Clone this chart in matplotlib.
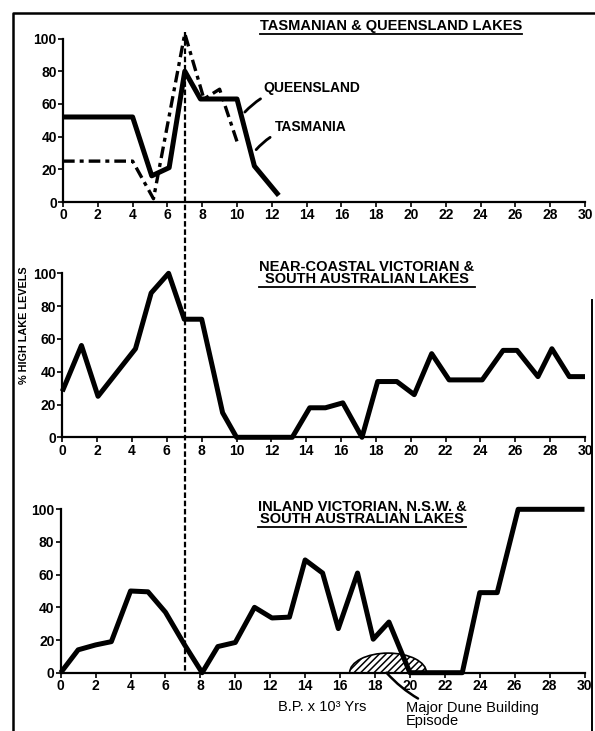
import matplotlib
matplotlib.use("Agg")
import matplotlib.pyplot as plt
from matplotlib.lines import Line2D
from matplotlib.patches import Ellipse

plt.rcParams['font.family'] = ['Liberation Sans', 'DejaVu Sans']
plt.rcParams['hatch.linewidth'] = 1.1

# ---------------- data ----------------
years_qld = [0, 4, 5.1, 6.1, 7.0, 7.9, 10.0, 11.0, 12.4]
qld = [52, 52, 16, 21, 80, 63, 63, 22, 4]

years_tas = [0, 4, 5.2, 7.0, 8.1, 9.0, 10.0]
tas = [25, 25, 2, 103, 63, 69, 37]

years_mid = [0, 1.1, 2.05, 4.2, 5.1, 6.1, 7.0, 8.0, 8.7, 9.2, 10.0, 13.2, 14.2,
             15.1, 16.1, 17.2, 18.1, 19.2, 20.2, 21.2, 22.2, 24.1, 25.3, 26.1,
             27.3, 28.1, 29.1, 30]
mid = [28, 56, 25, 54, 88, 100, 72, 72, 39, 15, 0, 0, 18, 18, 21, 0, 34, 34,
       26, 51, 35, 35, 53, 53, 37, 54, 37, 37]

years_low = [0, 1, 2, 2.9, 4, 5, 6, 7.1, 8.1, 9, 10, 11.1, 12.1, 13.1, 14, 15,
             15.9, 17, 17.9, 18.8, 20, 23, 24, 25, 26.2, 30]
low = [0, 14, 17, 19, 50, 49.5, 37, 17, 0, 16, 18.5, 40, 33.5, 34, 69, 61, 27,
       61, 20.5, 31, 0, 0, 49, 49, 100, 100]

dune_center = 18.75
dune_width = 4.4
dune_height = 12

marker_year = 7
xticks = list(range(0, 31, 2))
yticks = [0, 20, 40, 60, 80, 100]

titles = ["TASMANIAN & QUEENSLAND LAKES",
          "NEAR-COASTAL VICTORIAN &\nSOUTH AUSTRALIAN LAKES",
          "INLAND VICTORIAN, N.S.W. &\nSOUTH AUSTRALIAN LAKES"]

# ---------------- figure ----------------
W, H = 595, 731
fig = plt.figure(figsize=(W / 100, H / 100), dpi=100)

def rect(x0, x1, y100, y0):
    return [x0 / W, 1 - y0 / H, (x1 - x0) / W, (y0 - y100) / H]

ax1 = fig.add_axes(rect(63, 585, 38.5, 202))
ax2 = fig.add_axes(rect(62.3, 585, 273.3, 437.3))
ax3 = fig.add_axes(rect(60.7, 584.5, 509.3, 672.7))

tick_font = dict(fontsize=10, fontweight='bold')
for ax in (ax1, ax2, ax3):
    ax.set_facecolor('none')
    ax.set_xlim(0, 30)
    ax.set_ylim(0, 100)
    ax.set_xticks(xticks)
    ax.set_yticks(yticks)
    ax.set_xticklabels([str(t) for t in xticks], **tick_font)
    ax.set_yticklabels([str(t) for t in yticks], **tick_font)
    ax.tick_params(length=3.5, width=1.2, pad=1.0, colors='black')
    for s in ('top', 'right'):
        ax.spines[s].set_visible(False)
    for s in ('left', 'bottom'):
        ax.spines[s].set_linewidth(1.6)

thick = dict(color='black', lw=3.6, solid_joinstyle='round',
             solid_capstyle='butt', clip_on=False, zorder=4)

ax1.plot(years_qld, qld, **thick)
ax1.plot(years_tas, tas, color='black', lw=2.4, dashes=(3.5, 1.5, 1.2, 1.5),
         clip_on=False, zorder=3)
ax2.plot(years_mid, mid, **thick)
ax3.plot(years_low, low, **thick)

# vertical dashed marker through all three panels (drawn in top-axes data units)
ax1.plot([marker_year, marker_year], [104, -287], color='black', lw=1.6,
         dashes=(2.5, 1.2), clip_on=False, zorder=2)

# series labels
ax1.annotate("QUEENSLAND", xy=(10.45, 55), xytext=(11.5, 70),
             fontsize=10, fontweight='bold', va='center', ha='left',
             arrowprops=dict(arrowstyle='-', color='black', lw=2.0,
                             shrinkA=2, shrinkB=0,
                             connectionstyle='arc3,rad=0.25'))
ax1.annotate("TASMANIA", xy=(11.1, 32), xytext=(12.2, 45.6),
             fontsize=10, fontweight='bold', va='center', ha='left',
             arrowprops=dict(arrowstyle='-', color='black', lw=2.0,
                             shrinkA=2, shrinkB=0,
                             connectionstyle='arc3,rad=0.25'))

# dune building episode
ell = Ellipse((dune_center, 0), dune_width, 2 * dune_height, facecolor='none',
              edgecolor='black', hatch='/////', lw=1.2, zorder=3)
ax3.add_patch(ell)
ax3.annotate("Major Dune Building\nEpisode", xy=(18.66, 0), xytext=(19.75, -17.5),
             fontsize=10.5, va='top', ha='left', linespacing=0.9,
             annotation_clip=False,
             arrowprops=dict(arrowstyle='-', color='black', lw=1.8,
                             shrinkA=0, shrinkB=0,
                             connectionstyle='arc3,rad=-0.2'))

fig.text(322 / W, 1 - 707 / H, "B.P. x 10³ Yrs", fontsize=10.5,
         ha='center', va='center')
fig.text(24 / W, 1 - 325 / H, "% HIGH LAKE LEVELS", fontsize=7.8,
         fontweight='bold', rotation=90, ha='center', va='center')

# titles
title_pos = [(391, 26), (367, 273), (362, 513)]
tobjs = []
for (px, py), t in zip(title_pos, titles):
    tobjs.append(fig.text(px / W, 1 - py / H, t, fontsize=10.5,
                          fontweight='bold', ha='center', va='center',
                          linespacing=0.9))

fig.canvas.draw()
r = fig.canvas.get_renderer()
for t in tobjs:
    bb = t.get_window_extent(r)
    y = (bb.y0 - 1.0) / H
    fig.add_artist(Line2D([bb.x0 / W, bb.x1 / W], [y, y], color='black',
                          lw=1.3, transform=fig.transFigure))

# page frame
fig.add_artist(Line2D([13 / W, 13 / W, 1.0], [0, 1 - 13 / H, 1 - 13 / H],
                      color='black', lw=1.8, transform=fig.transFigure))
fig.add_artist(Line2D([592 / W, 592 / W], [0, 1 - 300 / H],
                      color='black', lw=1.4, transform=fig.transFigure))

fig.savefig("out.png", dpi=100)
